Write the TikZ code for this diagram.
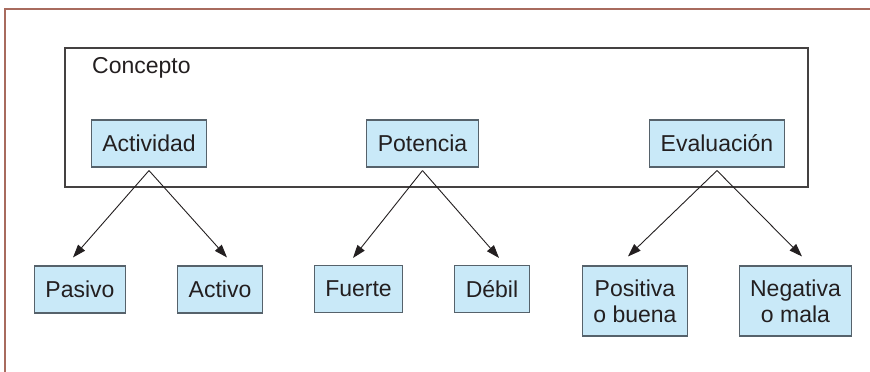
\documentclass[tikz,border=0pt]{standalone}
\usepackage{fontspec}
\setmainfont{Liberation Sans}
\usepackage{xcolor}
\usepackage{tikz}
\usetikzlibrary{arrows.meta, positioning, calc}

\definecolor{boxblue}{HTML}{C9E9F8}
\definecolor{boxedge}{HTML}{56626B}
\definecolor{framebrown}{HTML}{A86B5E}
\definecolor{inkblack}{HTML}{231F20}

\begin{document}
\begin{tikzpicture}[
    x=1pt, y=-1pt,
    every node/.style={text=inkblack},
    conceptbox/.style={draw=inkblack!85, line width=1.3pt, rectangle,
      minimum width=743pt, minimum height=139pt, inner sep=0pt},
    factor/.style={draw=boxedge, line width=1.1pt, rectangle, fill=boxblue,
      minimum height=47pt, inner xsep=11pt, align=center,
      font=\fontsize{23}{26}\selectfont},
    pole/.style={factor},
    arrow/.style={draw=inkblack, line width=0.9pt,
      -{Triangle[length=13pt,width=9pt]}}
]
\useasboundingbox (0,0) rectangle (870,372);
% outer frame (top and left only)
\draw[framebrown, line width=2pt] (5,372) -- (5,9) -- (870,9);

% concept container
\node[conceptbox] (concept) at (436.5,117.5) {};
\node[anchor=base west, inner sep=0pt, font=\fontsize{23}{26}\selectfont]
  (label) at (92,73) {Concepto};

% the three factors
\node[factor] (act) at (149,143.5) {Actividad};
\node[factor] (pot) at (422.5,143.5) {Potencia};
\node[factor] (eva) at (717,143.5) {Evaluación};

% poles
\node[pole] (pas) at (80,289.5) {Pasivo};
\node[pole] (acv) at (220,289.5) {Activo};
\node[pole] (fue) at (358.5,289) {Fuerte};
\node[pole] (deb) at (492,289) {Débil};
\node[pole, minimum height=70pt] (pos) at (635,301) {Positiva\\o buena};
\node[pole, minimum height=70pt] (neg) at (795.5,301) {Negativa\\o mala};

\draw[arrow] ([yshift=-3pt]act.south) -- ($(pas.north)+(-7,-8)$);
\draw[arrow] ([yshift=-3pt]act.south) -- ($(acv.north)+(7,-8)$);
\draw[arrow] ([yshift=-3pt]pot.south) -- ($(fue.north)+(-5.5,-7)$);
\draw[arrow] ([yshift=-3pt]pot.south) -- ($(deb.north)+(7,-7)$);
\draw[arrow] ([yshift=-3pt]eva.south) -- ($(pos.north)+(-7,-9)$);
\draw[arrow] ([yshift=-3pt]eva.south) -- ($(neg.north)+(6.5,-9)$);
\end{tikzpicture}
\end{document}
